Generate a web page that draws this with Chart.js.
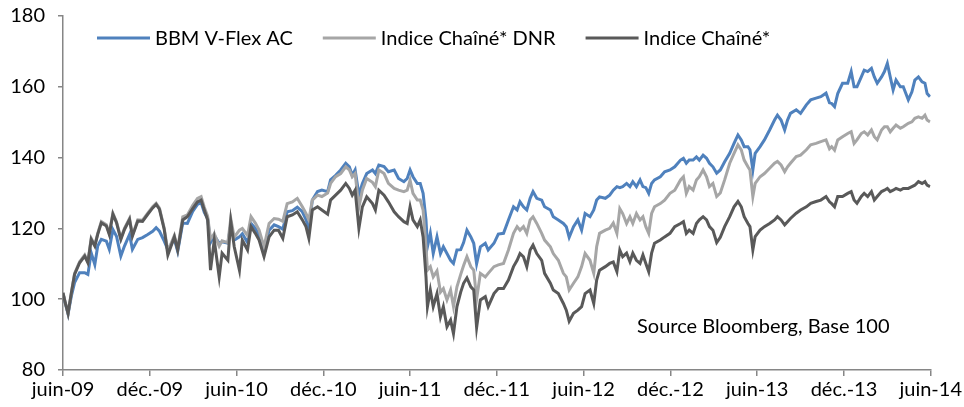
<!DOCTYPE html>
<html>
<head>
<meta charset="utf-8">
<script src="https://cdn.jsdelivr.net/npm/chart.js@4/dist/chart.umd.min.js"></script>
<style>
  html, body { margin: 0; padding: 0; background: #fff; }
  #wrap { width: 964px; height: 407px; }
</style>
</head>
<body>
<div id="wrap"><canvas id="perf-chart" width="964" height="407"></canvas></div>
<script>
// ── Data (months since juin-09) ─────────────────────────────────
const months = [
    0, 0.15, 0.35, 0.58, 0.8, 1.15, 1.5, 1.72, 1.95, 2.2, 2.4, 2.65, 3.0, 3.2, 3.45, 3.7, 4.0, 4.25, 4.6, 4.8, 5.17, 5.5, 5.86, 6.2, 6.44, 6.67, 7.0, 7.25,
    7.7, 7.93, 8.28, 8.6, 8.97, 9.3, 9.55, 9.77, 10.0, 10.2, 10.46, 10.8, 11.0, 11.4, 11.6, 11.84, 12.2, 12.4, 12.76, 13.0, 13.3, 13.56, 13.9, 14.25, 14.6, 14.9, 15.2,
    15.5, 15.86, 16.2, 16.55, 16.8, 17.0, 17.24, 17.6, 17.9, 18.3, 18.5, 18.85, 19.2, 19.55, 19.8, 20.0, 20.2, 20.46, 20.7, 21.0, 21.4, 21.6, 21.84, 22.2, 22.5, 22.9,
    23.2, 23.57, 23.8, 24.0, 24.2, 24.5, 24.7, 24.9, 25.1, 25.2, 25.4, 25.6, 25.86, 26.1, 26.3, 26.55, 26.8, 27.0, 27.24, 27.5, 27.7, 27.93, 28.2, 28.4, 28.6, 28.86, 29.2, 29.4, 29.8, 30.1, 30.46,
    30.8, 31.15, 31.4, 31.6, 31.84, 32.07, 32.3, 32.5, 32.76, 33.1, 33.3, 33.7, 33.9, 34.25, 34.6, 34.8, 35.0, 35.3, 35.6, 35.86, 36.1, 36.44, 36.7, 36.9, 37.1, 37.5, 37.8,
    38.05, 38.3, 38.5, 38.7, 38.97, 39.2, 39.4, 39.65, 39.9, 40.1, 40.3, 40.5, 40.7, 40.9, 41.3, 41.6, 41.97, 42.3, 42.7, 42.9, 43.1, 43.3, 43.57, 43.8, 44.0, 44.26, 44.5, 44.7, 44.94, 45.2, 45.45, 45.75,
    46.1, 46.4, 46.67, 46.9, 47.1, 47.36, 47.5, 47.7, 47.86, 48.2, 48.5, 48.86, 49.2, 49.4, 49.65, 49.9, 50.1, 50.3, 50.7, 51.0, 51.4, 51.7, 52.07, 52.4, 52.76, 53.0,
    53.15, 53.35, 53.57, 53.9, 54.26, 54.5, 54.7, 54.9, 55.2, 55.4, 55.64, 55.9, 56.1, 56.3, 56.6, 56.8, 57.0, 57.2, 57.4, 57.6, 57.9, 58.1, 58.45, 58.7, 58.9, 59.15, 59.4, 59.6, 59.75, 59.95
];

const bbmVFlexAC = [
    101.5, 99, 95.8, 100.9, 104.7, 107.5, 107.5, 107, 113.1, 109.8, 115, 116.9, 116.4, 114.1, 119.7, 117.8, 112.2, 115, 118.3, 114.1, 116.9, 117.4, 118.3, 119.2, 120.2, 119.2, 116.4, 114,
    117, 113.5, 121.5, 121.4, 124.8, 126.8, 127.3, 124.5, 122.8, 116, 118, 115.8, 116.2, 115.8, 121, 116.7, 117.6, 118.5, 116, 121.4, 120, 118, 113.9, 119.5, 121, 120.5, 119.8,
    124.7, 125, 126, 124.7, 122.5, 120, 128, 130.4, 130.8, 130.4, 133.7, 135, 136.5, 138.4, 137.4, 135, 136.5, 129.5, 132.7, 135.5, 136.5, 135.5, 137.9, 137.5, 136, 136.5,
    134.1, 133.2, 134.1, 136.5, 134.6, 132.7, 132.7, 129.9, 122.4, 114.8, 118.6, 112.9, 117.6, 112.9, 114.8, 112.9, 111, 110.1, 113.9, 114, 116, 119.5, 117.6, 115.8, 110, 114.8, 115.8, 113.9, 115.8, 118.4, 118.6,
    122.4, 126.1, 125.2, 127.5, 126.1, 125.2, 128.5, 130.4, 128.5, 128, 126.1, 125.2, 123.3, 122.4, 121.4, 120.5, 117.5, 120.5, 122.4, 119.5, 124.2, 123.3, 125.2, 128, 128.9, 128.5, 129.4,
    130.8, 131.8, 131.5, 131.8, 132.7, 131.8, 133.2, 131.8, 133.7, 131.8, 131.5, 129.9, 132.7, 133.7, 134.6, 136, 136.5, 137.4, 139.3, 139.8, 138.4, 139.3, 139.3, 140.2, 139.3, 140.7, 139.8, 138.4, 137.4, 135.6, 136.5, 138.8,
    141.2, 144, 146.4, 145, 143.1, 143.1, 142.2, 136.5, 141.2, 143.1, 145, 147.8, 150.6, 152, 150.6, 147.8, 150.6, 152.5, 153.5, 152.5, 154.9, 156.3, 156.8, 157.2, 158.2, 155.5,
    155.3, 154.4, 158.1, 161, 161, 164.3, 160, 160, 162.8, 164.7, 164.3, 165.2, 162.8, 161, 162.8, 164.3, 166.6, 162.8, 159.1, 161.9, 160, 160, 156.3, 158.6, 161.9, 162.8, 161.4, 161, 158.1, 157.2
];

const indiceChaineDNR = [
    101.8, 99.3, 96, 101.9, 107.3, 110.6, 112.5, 110.6, 117.2, 115.3, 118.6, 121.9, 121, 118.6, 124.3, 121.9, 117.2, 120, 122.8, 118.1, 122.4, 122.3, 124.3, 126.1, 127.1, 125.7, 120, 113.5,
    118, 114.3, 123.3, 123.8, 126.5, 128.5, 129, 126, 123.5, 117, 118.5, 115, 116.5, 116, 122.8, 117.5, 119.5, 120, 118, 123.3, 121.5, 119.5, 114.8, 121.4, 122.8, 122.6, 122,
    127, 127.5, 128.5, 126.1, 124.2, 122.4, 128, 129.4, 129, 130, 132.7, 134.6, 135.5, 137.4, 136.5, 134.6, 135.5, 126, 130.8, 134.1, 133, 131.8, 136.5, 135.5, 132.7, 131.3,
    130.8, 130.4, 130.8, 133.6, 129.9, 128, 128, 125.2, 114.8, 108.2, 109.2, 106.3, 108, 102, 103, 99.8, 102.6, 97.9, 103.5, 107, 109.5, 112, 109.2, 108.2, 100, 107.3, 106.3, 107.3, 109.2, 109.7, 110.1,
    113.9, 118.6, 120.5, 119.5, 120.5, 118.6, 122.4, 123.3, 121.4, 118.6, 116.7, 114.8, 112.9, 111, 107.3, 106.3, 102.6, 104.5, 106.3, 109.2, 112.9, 111, 107.3, 114.8, 118.6, 119.5, 120,
    121.5, 118.6, 125.6, 124.2, 121.4, 123.3, 121.4, 124.2, 122.4, 123.3, 120.5, 118.6, 124.2, 126.1, 127, 128, 129.9, 130.8, 133.7, 134.6, 129.9, 131.8, 130.8, 133.7, 134.6, 136.5, 134.6, 131.8, 132.7, 129, 130, 133.7,
    138.4, 141.2, 143.6, 142.2, 139.3, 137.4, 136.5, 129, 132.7, 134.6, 135.5, 137, 138.4, 138.9, 137.9, 136, 137.4, 138.4, 140.3, 140.7, 142.2, 143.6, 144, 144.5, 145, 142.5,
    143.1, 142.1, 145, 145.9, 146.8, 147.3, 144, 145, 146.8, 147.3, 146.4, 147.8, 145.9, 145, 147.8, 148.7, 148.7, 147.3, 148.3, 149.2, 148.3, 148.7, 149.7, 150.1, 151.1, 151.5, 151.1, 152, 150.6, 150.1
];

const indiceChaine = [
    101.8, 99, 96, 101.8, 107, 110.3, 112.2, 110.3, 116.9, 115, 118.3, 121.6, 120.7, 118.3, 124, 121.6, 116.9, 119.7, 122.5, 117.8, 122.1, 122, 124, 125.8, 126.8, 125.4, 119.7, 112.5,
    117.6, 113.9, 122.4, 123.3, 125.6, 127.5, 128, 125.2, 122.4, 108.2, 116.7, 106.3, 113, 111, 122, 114.8, 108.2, 116.7, 113.9, 120.5, 118.6, 116.7, 112, 117.6, 119.5, 119.5, 117.2,
    123.3, 123.8, 124.7, 122.4, 120.5, 117.2, 125.2, 126.1, 125.2, 124, 128, 129.4, 130.8, 132.7, 131.3, 129.4, 130.8, 120, 126.1, 128.9, 127, 125.2, 130.8, 129.4, 127.5, 124.7,
    123.3, 121.9, 121.4, 126.1, 122.4, 120.5, 122.4, 117.6, 106.3, 97.9, 102.6, 97.9, 101.6, 95, 97.9, 92.2, 94.1, 90.3, 97.9, 102, 104.5, 106, 103.5, 102.6, 92, 99.8, 100.7, 97.9, 101.6, 103, 103,
    105.4, 109.2, 111, 112.9, 112, 109.2, 113.9, 115.3, 112.9, 111, 107.3, 104.5, 102.6, 101.6, 98.8, 96.9, 93.8, 96, 96.9, 97.9, 101.6, 102.6, 98.8, 105.4, 108.2, 109.2, 110.1,
    110.5, 107.8, 113.9, 112, 113, 110.6, 113, 111, 110.1, 112.5, 110.1, 107.8, 113, 115.8, 116.7, 117.6, 118.6, 120.5, 121.4, 121.9, 118.6, 119.5, 118.6, 121.4, 122.4, 123.3, 122.4, 120.5, 119.5, 116, 117.5, 120.5,
    123.3, 126.1, 127.6, 126.1, 123.3, 121.4, 120.5, 113.9, 117.7, 119.5, 120.5, 121.4, 122.4, 123.3, 122.4, 121, 121.9, 122.8, 124.3, 125.2, 126.1, 127.1, 127.6, 128, 129, 127.5,
    127, 126.1, 129, 129, 129.9, 130.4, 128, 127.1, 129, 129.9, 129, 130.4, 128, 129, 130.4, 130.8, 131.3, 130.4, 130.8, 131.3, 130.8, 131.3, 131.3, 131.8, 132.2, 133.2, 132.7, 133.2, 132.2, 131.8
];

const seriesNames = ['BBM V-Flex AC', 'Indice Chaîné* DNR', 'Indice Chaîné*'];
const seriesColors = ['#4F81BD', '#A6A6A6', '#595959'];
const xTickLabels = ['juin-09', 'déc.-09', 'juin-10', 'déc.-10', 'juin-11', 'déc.-11',
                     'juin-12', 'déc.-12', 'juin-13', 'déc.-13', 'juin-14'];
const yTicks = [80, 100, 120, 140, 160, 180];
const sourceNote = 'Source Bloomberg, Base 100';

const FONT = 'Lato, "Open Sans", sans-serif';
const AXIS_GREY = '#868686';

// ── Helpers ─────────────────────────────────────────────────────
function toPoints(values) {
    return values.map((v, i) => ({ x: months[i], y: v }));
}

// legend drawn inside the plot, plus the source note
const overlayPlugin = {
    id: 'overlay',
    afterDraw(chart) {
        const { ctx, chartArea } = chart;
        ctx.save();
        ctx.font = '20px ' + FONT;
        ctx.textBaseline = 'middle';
        let x = chartArea.left + 34;
        const y = chartArea.top + 22;
        seriesNames.forEach((name, i) => {
            ctx.strokeStyle = seriesColors[i];
            ctx.lineWidth = 3;
            ctx.beginPath();
            ctx.moveTo(x, y);
            ctx.lineTo(x + 53, y);
            ctx.stroke();
            x += 58;
            ctx.fillStyle = '#000';
            ctx.textAlign = 'left';
            ctx.fillText(name, x, y + 1);
            x += ctx.measureText(name).width + 30;
        });
        ctx.font = '20px ' + FONT;
        ctx.textAlign = 'left';
        ctx.fillText(sourceNote, chartArea.left + 574, chartArea.bottom - 43);
        ctx.restore();
    },
};

// ── Chart ───────────────────────────────────────────────────────
const ctx = document.getElementById('perf-chart');
const datasets = [bbmVFlexAC, indiceChaineDNR, indiceChaine].map((vals, i) => ({
    label: seriesNames[i],
    data: toPoints(vals),
    borderColor: seriesColors[i],
    backgroundColor: seriesColors[i],
    borderWidth: 3,
    pointRadius: 0,
    tension: 0,
    fill: false,
    order: 3 - i,   // dark line on top, like the Excel original
}));

new Chart(ctx, {
    type: 'line',
    data: { datasets },
    options: {
        responsive: false,
        animation: false,
        devicePixelRatio: 1,
        layout: { padding: { top: 16, right: 33, left: 0, bottom: 0 } },
        plugins: {
            legend: { display: false },
            tooltip: { enabled: false },
        },
        scales: {
            x: {
                type: 'linear',
                min: 0,
                max: 60,
                afterBuildTicks: s => { s.ticks = xTickLabels.map((_, i) => ({ value: i * 6 })); },
                afterFit: s => { s.height = 37; },
                ticks: {
                    autoSkip: false,
                    maxRotation: 0,
                    padding: 2,
                    color: '#000',
                    font: { family: FONT, size: 20 },
                    callback: v => xTickLabels[Math.round(v / 6)],
                },
                grid: { drawOnChartArea: false, drawTicks: true, tickLength: 6, color: AXIS_GREY, lineWidth: 1.5 },
                border: { color: AXIS_GREY, width: 1.5 },
            },
            y: {
                min: 80,
                max: 180,
                afterBuildTicks: s => { s.ticks = yTicks.map(v => ({ value: v })); },
                // fixed axis width; drop the label padding so the plot top sits at 16px
                afterFit: s => { s.width = 63; s.paddingTop = 0; s.paddingBottom = 0; },
                ticks: {
                    padding: 13,
                    color: '#000',
                    font: { family: FONT, size: 20 },
                },
                grid: { drawOnChartArea: false, drawTicks: true, tickLength: 5, color: AXIS_GREY, lineWidth: 1.5 },
                border: { color: AXIS_GREY, width: 1.5 },
            },
        },
    },
    plugins: [overlayPlugin],
});
</script>
</body>
</html>
